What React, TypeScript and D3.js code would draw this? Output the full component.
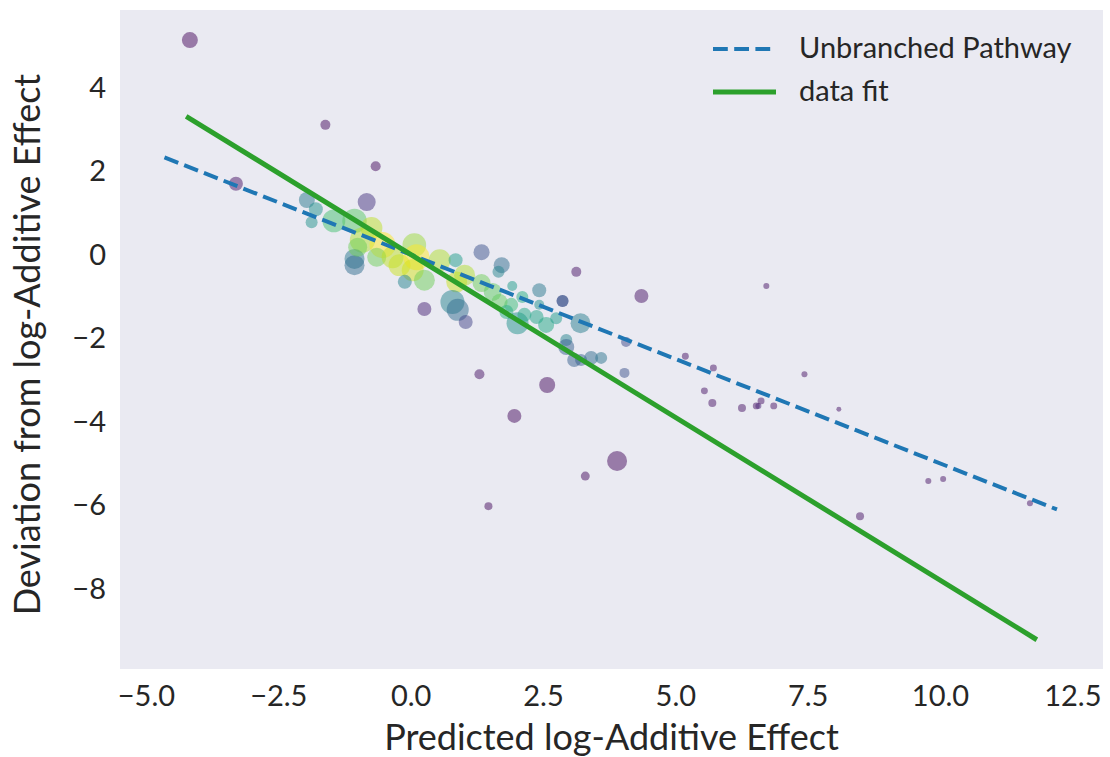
import React from "react";
import * as d3 from "d3";

// Scatter data: predicted log-additive effect (x), deviation (y), marker area, colour value (viridis 0..1)
const predicted = [
  -4.18, -3.31, -1.62, -0.67, -0.84, -1.97, -1.80, -1.88, -1.46, -1.07,
  -0.75, -0.92, -0.54, -1.07, -1.07, -1.01, -0.65, -0.35, -0.22, 0.06,
  0.10, 0.03, 0.25, -0.12, 0.54, 0.84, 0.86, 1.33, 1.71, 1.65,
  1.01, 1.33, 1.54, 1.91, 0.25, 0.78, 0.88, 1.03, 2.10, 1.89,
  1.67, 1.80, 2.01, 2.14, 2.37, 2.55, 2.74, 2.42, 2.42, 2.86,
  2.86, 3.12, 3.20, 2.93, 2.93, 3.08, 3.21, 3.40, 3.59, 1.29,
  2.57, 1.95, 3.89, 3.29, 1.46, 4.35, 4.06, 4.03, 5.18, 6.71,
  5.71, 5.54, 5.69, 6.25, 6.52, 6.56, 6.61, 6.85, 7.43, 8.08,
  9.77, 10.05, 11.69, 8.48,
];
const deviation = [
  5.14, 1.70, 3.11, 2.12, 1.26, 1.31, 1.09, 0.78, 0.81, 0.81,
  0.64, 0.35, 0.23, -0.10, -0.25, 0.18, -0.06, -0.06, -0.25, 0.23,
  -0.06, -0.37, -0.61, -0.65, -0.13, -0.13, -0.65, 0.06, -0.25, -0.41,
  -0.49, -0.68, -0.89, -0.75, -1.30, -1.13, -1.32, -1.61, -1.01, -1.20,
  -1.13, -1.37, -1.64, -1.44, -1.49, -1.68, -1.52, -0.85, -1.20, -1.11,
  -1.11, -0.41, -1.64, -2.04, -2.21, -2.52, -2.52, -2.47, -2.47, -2.86,
  -3.12, -3.86, -4.94, -5.30, -6.02, -0.99, -2.09, -2.83, -2.43, -0.75,
  -2.71, -3.26, -3.55, -3.67, -3.62, -3.62, -3.50, -3.62, -2.86, -3.70,
  -5.42, -5.37, -5.95, -6.26,
];
const markerSize = [
  64, 49, 25, 25, 81, 64, 49, 36, 130, 150,
  120, 160, 170, 100, 100, 90, 90, 120, 120, 140,
  170, 120, 110, 49, 120, 49, 110, 64, 64, 36,
  110, 81, 81, 25, 49, 144, 121, 49, 36, 49,
  64, 49, 121, 49, 49, 64, 36, 49, 25, 36,
  36, 25, 100, 36, 64, 49, 36, 49, 36, 25,
  64, 49, 100, 20, 16, 49, 25, 25, 12, 9,
  12, 12, 16, 16, 12, 9, 12, 12, 9, 6,
  9, 9, 9, 16,
];
const colorValue = [
  0.02, 0.05, 0.03, 0.03, 0.15, 0.4, 0.5, 0.5, 0.7, 0.74,
  0.9, 0.88, 1.0, 0.4, 0.35, 0.78, 0.78, 0.9, 0.92, 0.85,
  1.0, 0.93, 0.78, 0.45, 0.88, 0.55, 0.92, 0.25, 0.35, 0.45,
  0.88, 0.78, 0.75, 0.55, 0.1, 0.45, 0.35, 0.2, 0.62, 0.68,
  0.76, 0.62, 0.5, 0.6, 0.58, 0.6, 0.55, 0.4, 0.5, 0.25,
  0.25, 0.05, 0.42, 0.45, 0.3, 0.3, 0.3, 0.35, 0.38, 0.05,
  0.03, 0.03, 0.03, 0.03, 0.03, 0.05, 0.22, 0.25, 0.05, 0.05,
  0.05, 0.05, 0.05, 0.05, 0.05, 0.1, 0.05, 0.05, 0.05, 0.05,
  0.05, 0.05, 0.05, 0.05,
];

// Reference lines
const pathwayX = [-4.66, 12.2];
const pathwaySlope = -0.5;
const fitX = [-4.25, 11.82];
const fitSlope = -0.78;
const fitIntercept = 0.0;

const xTicks = [-5.0, -2.5, 0.0, 2.5, 5.0, 7.5, 10.0, 12.5];
const yTicks = [4, 2, 0, -2, -4, -6, -8];
const xDomain = [-5.5, 13.07];
const yDomain = [-9.92, 5.86];

const legendLabels = ["Unbranched Pathway", "data fit"];
const xLabel = "Predicted log-Additive Effect";
const yLabel = "Deviation from log-Additive Effect";

const W = 1110;
const H = 757;
const plot = { left: 120, top: 10, right: 1103, bottom: 669 };
const FONT = "Lato, 'Open Sans', sans-serif";

const fmtTick = (v: number) => {
  const s = v.toFixed(1);
  return v < 0 ? "\u2212" + s.slice(1) : s;
};
const fmtY = (v: number) => (v < 0 ? "\u2212" + String(-v) : String(v));

export default function App() {
  const x = d3.scaleLinear().domain(xDomain).range([plot.left, plot.right]);
  const y = d3.scaleLinear().domain(yDomain).range([plot.bottom, plot.top]);
  const r = d3.scaleSqrt().domain([0, 144]).range([0, 12]);

  const line = d3
    .line<[number, number]>()
    .x((d) => x(d[0]))
    .y((d) => y(d[1]));

  const pathwayPts: [number, number][] = pathwayX.map((v) => [v, pathwaySlope * v]);
  const fitPts: [number, number][] = fitX.map((v) => [v, fitSlope * v + fitIntercept]);

  const pts = predicted.map((px, i) => ({
    x: px,
    y: deviation[i],
    s: markerSize[i],
    c: colorValue[i],
  }));

  return (
    <svg
      width={W}
      height={H}
      style={{ position: "absolute", left: 0, top: 0, background: "#fff" }}
      fontFamily={FONT}
    >
      <defs>
        <clipPath id="plotclip">
          <rect x={plot.left} y={plot.top} width={plot.right - plot.left} height={plot.bottom - plot.top} />
        </clipPath>
      </defs>
      <rect
        x={plot.left}
        y={plot.top}
        width={plot.right - plot.left}
        height={plot.bottom - plot.top}
        fill="#eaeaf2"
      />
      <g clipPath="url(#plotclip)">
        {pts.map((p, i) => (
          <circle
            key={i}
            cx={x(p.x)}
            cy={y(p.y)}
            r={r(p.s)}
            fill={d3.interpolateViridis(p.c)}
            fillOpacity={0.5}
          />
        ))}
        <path
          d={line(pathwayPts) || ""}
          stroke="#1f77b4"
          strokeWidth={4}
          strokeDasharray="14.8,6.4"
          fill="none"
        />
        <path d={line(fitPts) || ""} stroke="#2ca02c" strokeWidth={5} fill="none" />
      </g>

      {/* x tick labels */}
      {xTicks.map((t) => (
        <text
          key={"xt" + t}
          x={x(t)}
          y={706}
          textAnchor="middle"
          fontSize={29}
          fill="#262626"
        >
          {fmtTick(t)}
        </text>
      ))}
      {/* y tick labels */}
      {yTicks.map((t) => (
        <text
          key={"yt" + t}
          x={106}
          y={y(t)}
          dy="0.35em"
          textAnchor="end"
          fontSize={29}
          fill="#262626"
        >
          {fmtY(t)}
        </text>
      ))}
      <text
        x={(plot.left + plot.right) / 2}
        y={750}
        textAnchor="middle"
        fontSize={36}
        fill="#262626"
      >
        {xLabel}
      </text>
      <text
        transform={`translate(40, ${(plot.top + plot.bottom) / 2 + 5}) rotate(-90)`}
        textAnchor="middle"
        fontSize={36}
        fill="#262626"
      >
        {yLabel}
      </text>

      {/* legend */}
      <g>
        <line x1={713} x2={776} y1={49} y2={49} stroke="#1f77b4" strokeWidth={4} strokeDasharray="14.8,6.4" />
        <line x1={713} x2={776} y1={92} y2={92} stroke="#2ca02c" strokeWidth={5} />
        <text x={799} y={58} fontSize={29} fill="#262626">
          {legendLabels[0]}
        </text>
        <text x={799} y={101} fontSize={29} fill="#262626">
          {legendLabels[1]}
        </text>
      </g>
    </svg>
  );
}
